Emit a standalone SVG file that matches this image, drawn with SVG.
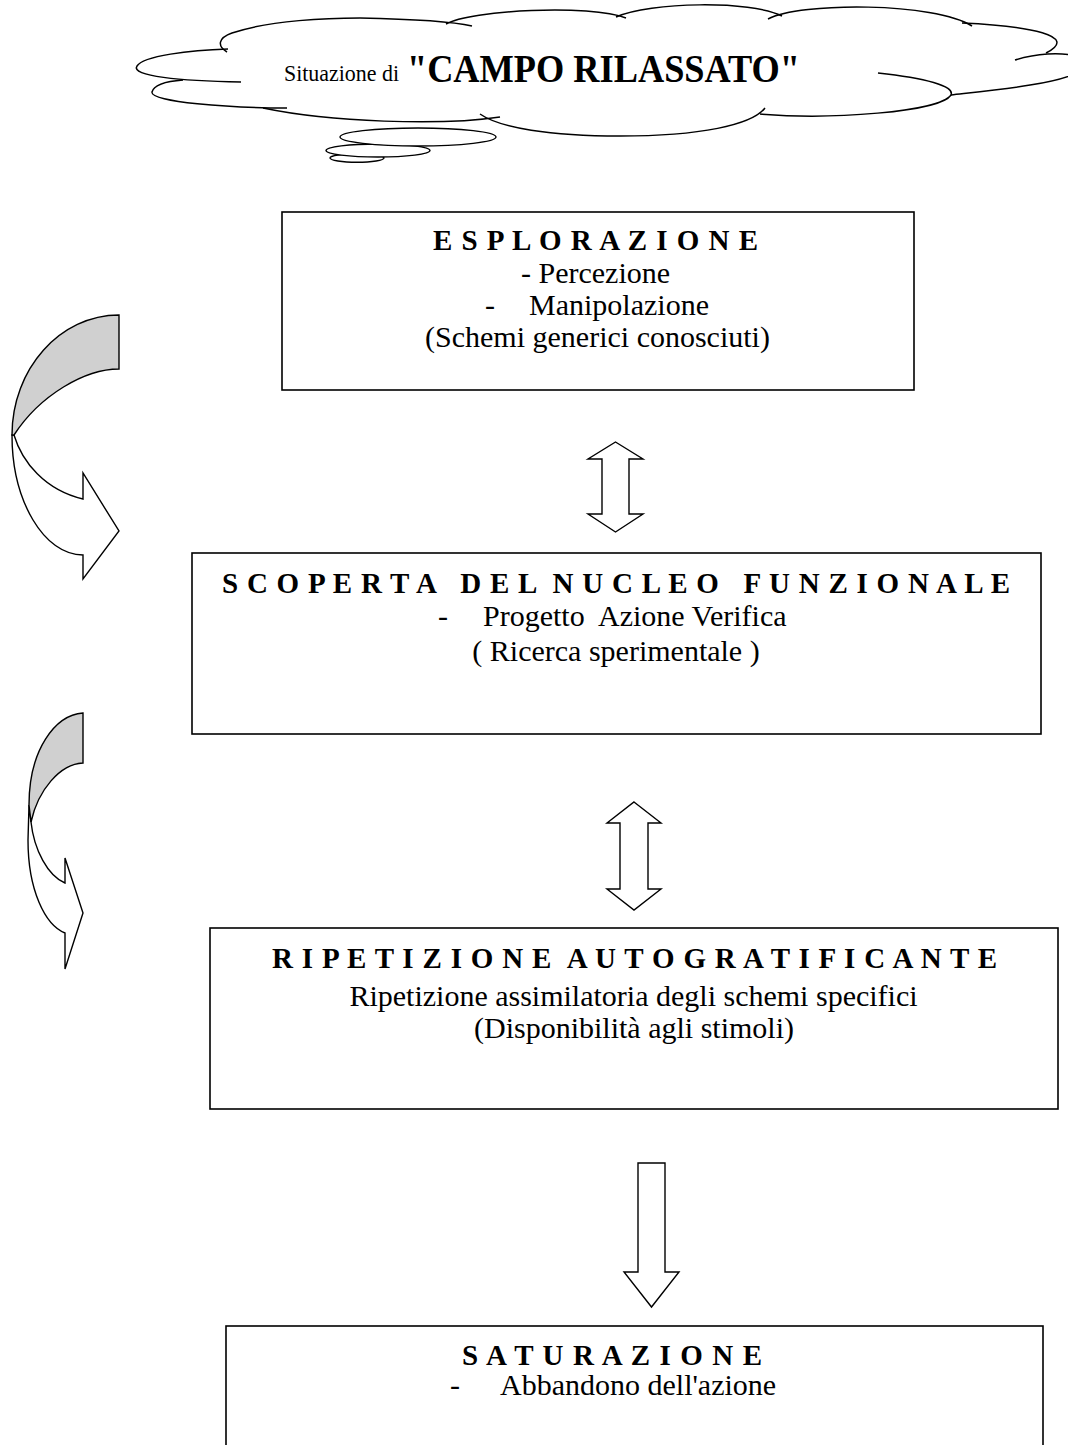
<svg xmlns="http://www.w3.org/2000/svg" width="1068" height="1445" viewBox="0 0 1068 1445">
<style>
text{font-family:"Liberation Serif","Times New Roman",serif;fill:#000;white-space:pre}
.t{font-size:29px;font-weight:bold}
.b{font-size:30px}
.box{fill:#fff;stroke:#000;stroke-width:1.6}
.ln{fill:none;stroke:#000;stroke-width:1.5}
.ar{fill:#fff;stroke:#000;stroke-width:1.4;stroke-linejoin:miter}
.gr{fill:#d0d0d0;stroke:#000;stroke-width:1.4}
</style>
<rect width="1068" height="1445" fill="#fff"/>

<g id="cloud">
  <ellipse cx="357" cy="158" rx="27" ry="4.2" class="ar"/>
  <ellipse cx="378" cy="150.5" rx="52" ry="6.5" class="ar"/>
  <ellipse cx="418" cy="137" rx="78" ry="9" class="ar"/>
  <path class="ln" d="M241,82 C180,81 130,76 137,66 C143,56 190,50 228,49"/>
  <path class="ln" d="M227,52 C217,46 218,38 232,33 C270,20 330,18 360,18 C410,19 450,21 472,26"/>
  <path class="ln" d="M446,24 C470,10 590,4 626,18"/>
  <path class="ln" d="M616,17 C650,2 750,0 782,16"/>
  <path class="ln" d="M768,19 C800,2 935,2 972,26"/>
  <path class="ln" d="M962,23 C1030,26 1080,36 1046,53"/>
  <path class="ln" d="M1015,60 C1060,46 1105,58 1078,72 C1058,84 995,90 951,95"/>
  <path class="ln" d="M878,73 C925,78 955,86 951,95 C940,112 830,120 760,114"/>
  <path class="ln" d="M765,108 C752,125 700,136 620,136 C550,136 500,128 480,114"/>
  <path class="ln" d="M500,117 C440,126 330,122 263,108"/>
  <path class="ln" d="M287,108 C230,108 150,102 152,92 C154,84 170,81 183,80"/>
  <text x="284" y="81" font-size="24" textLength="115" lengthAdjust="spacingAndGlyphs">Situazione di</text>
  <text x="407" y="82" font-size="41" font-weight="bold" textLength="393" lengthAdjust="spacingAndGlyphs">"CAMPO RILASSATO"</text>
</g>

<g id="esplorazione">
  <rect class="box" x="282" y="212" width="632" height="178"/>
  <text class="t" x="433" y="250" textLength="325" lengthAdjust="spacing">E S P L O R A Z I O N E</text>
  <text class="b" x="595.5" y="283" text-anchor="middle">- Percezione</text>
  <text class="b" y="315"><tspan x="485">-</tspan><tspan x="529">Manipolazione</tspan></text>
  <text class="b" x="597.5" y="347" text-anchor="middle">(Schemi generici conosciuti)</text>
</g>

<g id="scoperta">
  <rect class="box" x="192" y="553" width="849" height="181"/>
  <text class="t" x="222" y="593" textLength="788" lengthAdjust="spacing">S C O P E R T A   D E L  N U C L E O   F U N Z I O N A L E</text>
  <text class="b" y="626"><tspan x="438">-</tspan><tspan x="483">Progetto  Azione Verifica</tspan></text>
  <text class="b" x="616" y="661" text-anchor="middle">( Ricerca sperimentale )</text>
</g>

<g id="ripetizione">
  <rect class="box" x="210" y="928" width="848" height="181"/>
  <text class="t" x="272" y="968" textLength="725" lengthAdjust="spacing">R I P E T I Z I O N E  A U T O G R A T I F I C A N T E</text>
  <text class="b" x="633.5" y="1006" text-anchor="middle">Ripetizione assimilatoria degli schemi specifici</text>
  <text class="b" x="634" y="1038" text-anchor="middle">(Disponibilità agli stimoli)</text>
</g>

<g id="saturazione">
  <rect class="box" x="226" y="1326" width="817" height="140"/>
  <text class="t" x="462" y="1365" textLength="300" lengthAdjust="spacing">S A T U R A Z I O N E</text>
  <text class="b" y="1395"><tspan x="450">-</tspan><tspan x="500">Abbandono dell'azione</tspan></text>
</g>

<g id="connectors">
  <polygon class="ar" points="615.5,442 643,459 629,459 629,514 643,514 615.5,532 588,514 602,514 602,459 588,459"/>
  <polygon class="ar" points="634,802 661,823 648,823 648,889 661,889 634,910 607,889 620,889 620,823 607,823"/>
  <polygon class="ar" points="638,1163 665,1163 665,1272 679,1272 651.5,1307 624,1272 638,1272"/>
  <g id="curved1">
    <path class="ar" d="M14,435 C22,462 45,490 83,499 L83,473 L119,531 L83,579 L83,555 C44,555 12,501 12,435 Z"/>
    <path class="gr" d="M119,315 L119,369 C85,369 40,395 14,435 L12,435 C12,369 60,315 119,315 Z"/>
  </g>
  <g id="curved2">
    <path class="ar" d="M31,822 C34,850 48,876 65,883 L65,858 L83,913 L65,969 L65,933 C45,925 28,890 28,840 L29,805 Z"/>
    <path class="gr" d="M83,713 L83,763 C60,764 38,790 31,822 L29,805 C29,750 55,715 83,713 Z"/>
  </g>
</g>
</svg>
